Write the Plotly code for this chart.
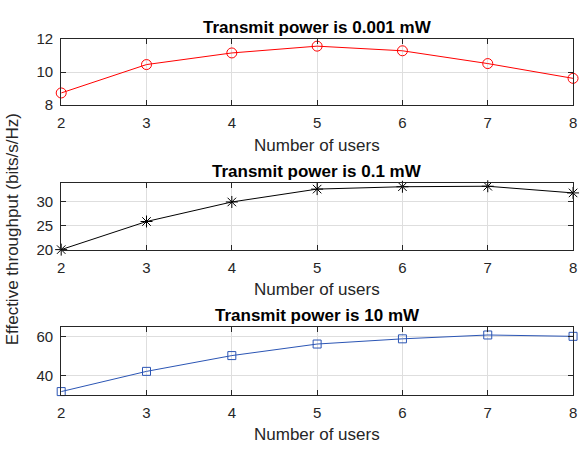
import plotly.graph_objects as go

users = [2, 3, 4, 5, 6, 7, 8]
tp_0001 = [8.74, 10.45, 11.15, 11.56, 11.28, 10.51, 9.62]
tp_01 = [20.0, 25.9, 30.0, 32.7, 33.2, 33.3, 31.9]
tp_10 = [31.6, 42.1, 50.3, 56.3, 59.0, 61.0, 60.3]

titles = ["Transmit power is 0.001 mW", "Transmit power is 0.1 mW", "Transmit power is 10 mW"]
xlabel = "Number of users"
ylabel = "Effective throughput (bits/s/Hz)"

W, H = 581, 453
FONT = "Liberation Sans, Arial, Helvetica, sans-serif"
AX = "#262626"
GRID = "#dedede"

series = [
    dict(y=tp_0001, color="#ff0000", symbol="circle-open", size=10, yr=[8, 12], dt=2),
    dict(y=tp_01, color="#000000", symbol="asterisk-open", size=10, yr=[20, 34], dt=5),
    dict(y=tp_10, color="#2b55b4", symbol="square-open", size=8, yr=[30, 65], dt=20),
]
# pixel boxes (top, bottom)
boxes = [(31, 100), (180.7, 250), (330.7, 400.7)]
x0, x1 = 58, 577

fig = go.Figure()
annotations = []
for i, s in enumerate(series):
    n = "" if i == 0 else str(i + 1)
    fig.add_trace(go.Scatter(
        x=users, y=s["y"], mode="lines+markers",
        line=dict(color=s["color"], width=1),
        marker=dict(symbol=s["symbol"], size=s["size"], color=s["color"],
                    line=dict(color=s["color"], width=1)),
        cliponaxis=False, showlegend=False,
        xaxis="x" + n, yaxis="y" + n,
    ))
    top, bot = boxes[i]
    dom = [1 - bot / H, 1 - top / H]
    common = dict(showline=True, linecolor=AX, linewidth=1, mirror="allticks",
                  ticks="inside", ticklen=5, tickcolor=AX, showgrid=True,
                  gridcolor=GRID, gridwidth=1, zeroline=False,
                  ticklabeloverflow="allow",
                  tickfont=dict(family=FONT, size=15, color=AX))
    fig.update_layout(**{
        "xaxis" + n: dict(domain=[x0 / W, x1 / W], range=[2, 8], dtick=1,
                          anchor="y" + n, ticklabelstandoff=4, **common),
        "yaxis" + n: dict(domain=dom, range=s["yr"], dtick=s["dt"],
                          anchor="x" + n, ticklabelstandoff=4, **common),
    })
    annotations.append(dict(text="<b>" + titles[i] + "</b>", x=(x0 + x1) / 2 / W,
                            y=1 - (top - 12) / H, xref="paper", yref="paper",
                            xanchor="center", yanchor="middle", showarrow=False,
                            font=dict(family=FONT, size=17, color="#000000")))
    annotations.append(dict(text=xlabel, x=(x0 + x1) / 2 / W,
                            y=1 - (bot + 41.5) / H, xref="paper", yref="paper",
                            xanchor="center", yanchor="middle", showarrow=False,
                            font=dict(family=FONT, size=17, color=AX)))

annotations.append(dict(text=ylabel, x=9 / W, y=1 - 229 / H, xref="paper", yref="paper",
                        xanchor="center", yanchor="middle", showarrow=False, textangle=-90,
                        font=dict(family=FONT, size=17, color=AX)))

fig.update_layout(width=W, height=H, margin=dict(l=0, r=0, t=0, b=0),
                  paper_bgcolor="white", plot_bgcolor="white",
                  annotations=annotations)
fig.write_html("out.html")
